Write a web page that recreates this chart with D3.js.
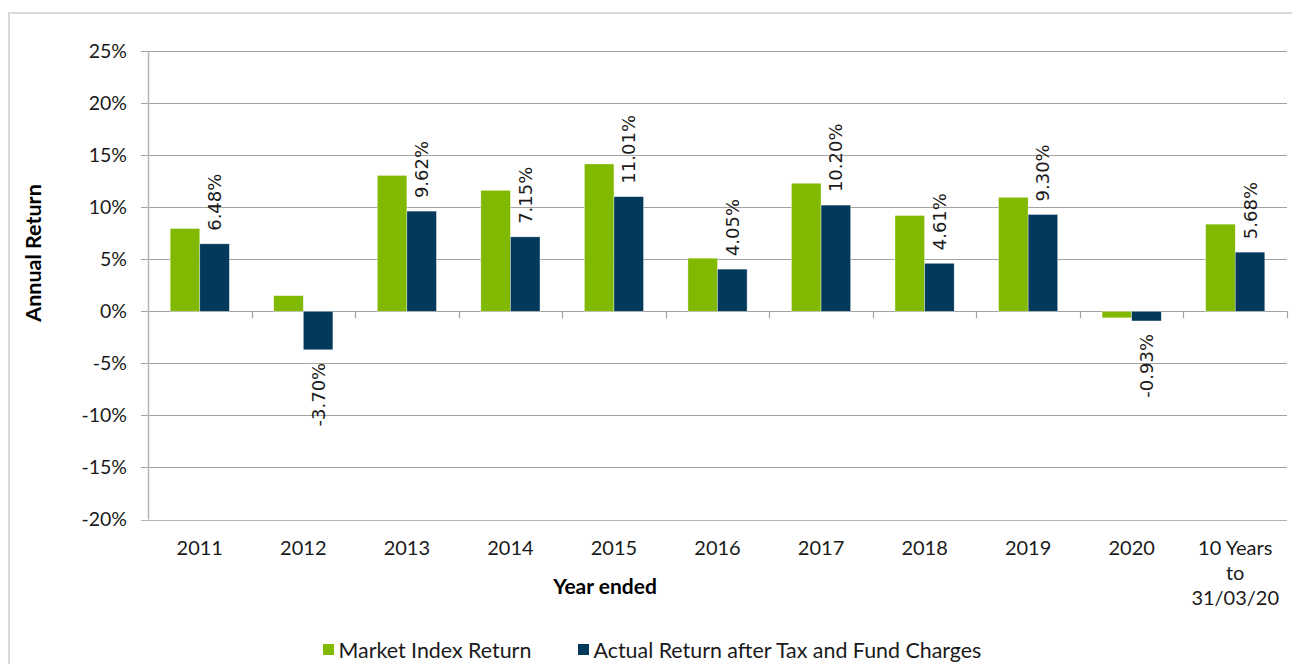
<!DOCTYPE html>
<html>
<head>
<meta charset="utf-8">
<script src="https://cdn.jsdelivr.net/npm/d3@7"></script>
<style>
  body { margin: 0; background: #fff; }
  svg { display: block; }
</style>
</head>
<body>
<div id="app"></div>
<script>
'use strict'

const categories = ['2011', '2012', '2013', '2014', '2015', '2016', '2017', '2018', '2019', '2020', '10 Years|to|31/03/20']
const marketIndex = [7.95, 1.5, 13.05, 11.62, 14.15, 5.1, 12.3, 9.2, 10.95, -0.63, 8.37]
const actualReturn = [6.48, -3.70, 9.62, 7.15, 11.01, 4.05, 10.20, 4.61, 9.30, -0.93, 5.68]
const seriesNames = ['Market Index Return', 'Actual Return after Tax and Fund Charges']
const yTicks = [-20, -15, -10, -5, 0, 5, 10, 15, 20, 25]

const width = 1292
const height = 664
const colors = ['#80b900', '#033a5c']
const labelFont = 'Lato, "Open Sans", sans-serif'

const svg = d3.select('#app').append('svg')
  .attr('width', width)
  .attr('height', height)

// outer chart frame (cut off on the right and bottom)
svg.append('path')
  .attr('d', `M9,${height + 2} L9,13 L${width + 2},13`)
  .attr('fill', 'none')
  .attr('stroke', '#d9d9d9')
  .attr('stroke-width', 2)

const x0 = d3.scaleBand()
  .domain(categories)
  .range([148, 1287])

const x1 = d3.scaleBand()
  .domain([0, 1])
  .range([0, x0.bandwidth()])
  .paddingOuter(0.75)

const y = d3.scaleLinear()
  .domain([-20, 25])
  .range([519.5, 51])

// gridlines
svg.append('g')
  .selectAll('line')
  .data(yTicks)
  .enter().append('line')
  .attr('x1', 141)
  .attr('x2', 1287)
  .attr('y1', d => Math.round(y(d)) + 0.5)
  .attr('y2', d => Math.round(y(d)) + 0.5)
  .attr('stroke', d => d === -20 ? '#b4b4b4' : '#a3a3a3')
  .attr('stroke-width', 1.2)

// y tick labels
svg.append('g')
  .selectAll('text')
  .data(yTicks)
  .enter().append('text')
  .attr('x', 127)
  .attr('y', d => y(d))
  .attr('dy', '0.35em')
  .attr('text-anchor', 'end')
  .style('font-family', labelFont)
  .style('font-size', '19.5px')
  .style('fill', '#1a1a1a')
  .text(d => d + '%')

// y axis line
svg.append('line')
  .attr('x1', 148.5).attr('x2', 148.5)
  .attr('y1', y(25)).attr('y2', y(-20))
  .attr('stroke', '#b4b4b4')
  .attr('stroke-width', 1.5)

// category ticks at zero line
svg.append('g')
  .selectAll('line')
  .data(categories.slice(1).concat(['end']))
  .enter().append('line')
  .attr('x1', (d, i) => Math.round(x0(categories[0]) + x0.step() * (i + 1)) + 0.5)
  .attr('x2', (d, i) => Math.round(x0(categories[0]) + x0.step() * (i + 1)) + 0.5)
  .attr('y1', y(0))
  .attr('y2', y(0) + 7)
  .attr('stroke', '#a3a3a3')
  .attr('stroke-width', 1.2)

// bars
const groups = svg.append('g')
  .selectAll('g')
  .data(categories)
  .enter().append('g')
  .attr('transform', d => `translate(${x0(d)},0)`)

groups.selectAll('rect')
  .data((d, i) => [marketIndex[i], actualReturn[i]])
  .enter().append('rect')
  .attr('x', (d, i) => x1(i))
  .attr('width', x1.bandwidth())
  .attr('y', d => y(Math.max(0, d)))
  .attr('height', d => Math.abs(y(d) - y(0)))
  .attr('fill', (d, i) => colors[i])
  .attr('stroke', '#ffffff')
  .attr('stroke-opacity', 0.6)
  .attr('stroke-width', 0.6)

// value labels on the actual return series
groups.append('text')
  .attr('transform', (d, i) => {
    const v = actualReturn[i]
    const cx = x1(1) + x1.bandwidth() / 2
    const cy = v >= 0 ? y(v) - 13 : y(v) + 13
    return `translate(${cx},${cy}) rotate(-90)`
  })
  .attr('dy', '0.36em')
  .attr('text-anchor', (d, i) => actualReturn[i] >= 0 ? 'start' : 'end')
  .style('font-family', '"DejaVu Sans", sans-serif')
  .style('font-size', '18px')
  .style('fill', '#1a1a1a')
  .text((d, i) => actualReturn[i].toFixed(2) + '%')

// category labels
const catLabels = svg.append('g')
  .selectAll('text')
  .data(categories)
  .enter().append('text')
  .attr('x', d => x0(d) + x0.bandwidth() / 2)
  .attr('y', 548)
  .attr('dy', '0.35em')
  .attr('text-anchor', 'middle')
  .style('font-family', labelFont)
  .style('font-size', '20px')
  .style('fill', '#1a1a1a')

catLabels.selectAll('tspan')
  .data(d => d.split('|'))
  .enter().append('tspan')
  .attr('x', function () { return d3.select(this.parentNode).attr('x') })
  .attr('dy', (d, i) => i === 0 ? '0.35em' : '25px')
  .text(d => d)

// axis titles
svg.append('text')
  .attr('x', 605)
  .attr('y', 587)
  .attr('dy', '0.35em')
  .attr('text-anchor', 'middle')
  .style('font-family', labelFont)
  .style('font-weight', 'bold')
  .style('font-size', '21px')
  .style('fill', '#000')
  .text('Year ended')

svg.append('text')
  .attr('transform', 'translate(33,253) rotate(-90)')
  .attr('dy', '0.35em')
  .attr('text-anchor', 'middle')
  .style('font-family', labelFont)
  .style('font-weight', 'bold')
  .style('font-size', '21.5px')
  .style('fill', '#000')
  .text('Annual Return')

// legend
const legendX = [323, 578]
const legend = svg.append('g')
  .selectAll('g')
  .data(seriesNames)
  .enter().append('g')
  .attr('transform', (d, i) => `translate(${legendX[i]},650)`)

legend.append('rect')
  .attr('x', 0)
  .attr('y', -6)
  .attr('width', 11)
  .attr('height', 11)
  .attr('fill', (d, i) => colors[i])

legend.append('text')
  .attr('x', 15.5)
  .attr('dy', '0.35em')
  .style('font-family', labelFont)
  .style('font-size', '21.4px')
  .style('fill', '#1a1a1a')
  .text(d => d)
</script>
</body>
</html>
